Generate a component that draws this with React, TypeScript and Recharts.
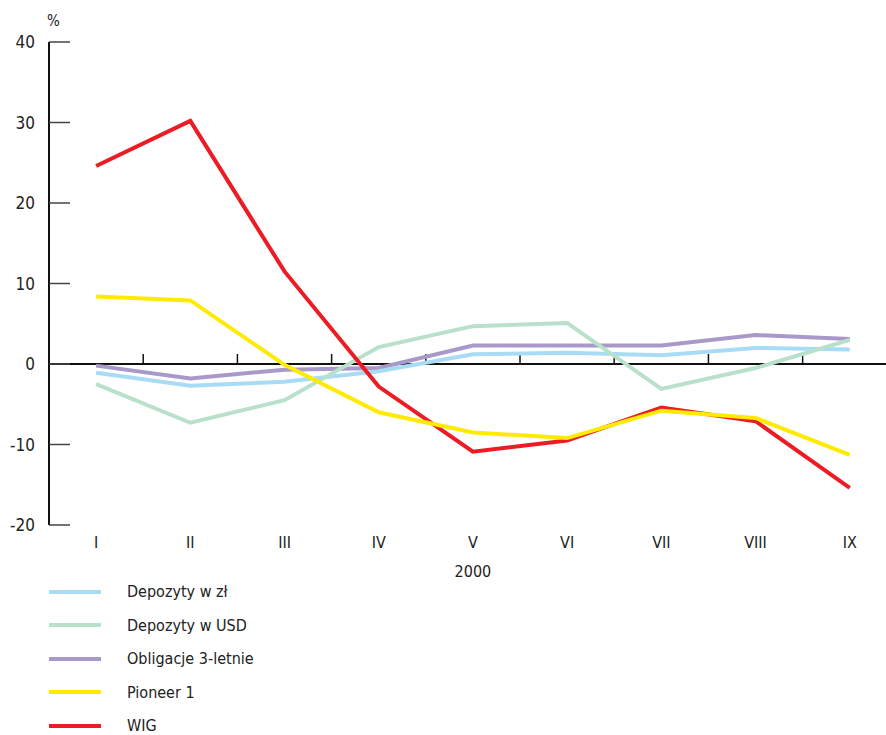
import { LineChart, Line, XAxis, YAxis, ReferenceLine, Legend } from "recharts"

// miesiące 2000
const months = ["I", "II", "III", "IV", "V", "VI", "VII", "VIII", "IX"]

const depozytyZl = [-1.1, -2.7, -2.2, -0.9, 1.2, 1.4, 1.1, 2.0, 1.8]
const depozytyUsd = [-2.5, -7.3, -4.5, 2.1, 4.7, 5.1, -3.1, -0.5, 3.0]
const obligacje = [-0.2, -1.8, -0.7, -0.5, 2.3, 2.3, 2.3, 3.6, 3.1]
const pioneer = [8.4, 7.9, -0.1, -6.0, -8.5, -9.2, -5.8, -6.7, -11.3]
const wig = [24.6, 30.2, 11.5, -2.8, -10.9, -9.5, -5.4, -7.1, -15.4]

const yTicks = [-20, -10, 0, 10, 20, 30, 40]

const FONT = "'Liberation Sans Narrow', 'DejaVu Sans Condensed', 'Open Sans', sans-serif"
const X_DOMAIN: [number, number] = [-0.5, 8.385]

// legend order
const series = [
  { key: "zl", name: "Depozyty w zł", color: "#a8dcf4", values: depozytyZl },
  { key: "usd", name: "Depozyty w USD", color: "#b8e0ca", values: depozytyUsd },
  { key: "obl", name: "Obligacje 3-letnie", color: "#a999cb", values: obligacje },
  { key: "pioneer", name: "Pioneer 1", color: "#ffeb00", values: pioneer },
  { key: "wig", name: "WIG", color: "#ec1c24", values: wig },
]

// draw order (yellow on top)
const drawOrder = ["obl", "zl", "usd", "wig", "pioneer"]

const data = months.map((m, i) => {
  const row: Record<string, number | string> = { idx: i, month: m }
  series.forEach((s) => {
    row[s.key] = s.values[i]
  })
  return row
})

// small ticks on the zero line, between months
const midTicks = months.slice(1).map((_, i) => i + 0.5)

const renderLegend = () => (
  <div style={{ fontFamily: FONT, fontSize: 16, color: "#222" }}>
    {series.map((s) => (
      <div key={s.key} style={{ display: "flex", alignItems: "center", height: 33.5 }}>
        <span style={{ display: "inline-block", width: 52, height: 4, background: s.color, marginLeft: 49 }} />
        <span style={{ marginLeft: 26 }}>{s.name}</span>
      </div>
    ))}
  </div>
)

export default function App() {
  return (
    <div style={{ position: "absolute", left: 0, top: 0 }}>
      <LineChart width={886} height={735} data={data} margin={{ top: 42, right: 0, left: 0, bottom: 180 }}>
        <XAxis
          type="number"
          dataKey="idx"
          domain={X_DOMAIN}
          allowDataOverflow
          ticks={months.map((_, i) => i)}
          interval={0}
          tickFormatter={(v) => months[v]}
          axisLine={false}
          tickLine={false}
          tickSize={0}
          tickMargin={12}
          height={30}
          tick={{ fill: "#222", fontSize: 16, fontFamily: FONT }}
          label={{
            content: ({ viewBox }: any) => {
              const x = viewBox.x + ((4 - X_DOMAIN[0]) / (X_DOMAIN[1] - X_DOMAIN[0])) * viewBox.width
              return (
                <text x={x} y={577} textAnchor="middle" fill="#222" fontSize={16} fontFamily={FONT}>
                  2000
                </text>
              )
            },
          }}
        />
        <YAxis
          domain={[-20, 40]}
          ticks={yTicks}
          interval={0}
          width={49}
          axisLine={{ stroke: "#111", strokeWidth: 2 }}
          tickLine={{ stroke: "#444", strokeWidth: 1.5 }}
          tickSize={-21}
          tickMargin={35}
          tick={{ fill: "#222", fontSize: 17, fontFamily: FONT }}
          label={{
            content: ({ viewBox }: any) => (
              <text x={viewBox.x + viewBox.width - 2} y={viewBox.y - 16} fill="#222" fontSize={15} fontFamily={FONT}>
                %
              </text>
            ),
          }}
        />
        <ReferenceLine y={0} stroke="#111" strokeWidth={2} />
        {midTicks.map((x) => (
          <ReferenceLine
            key={x}
            segment={[
              { x, y: 0 },
              { x, y: 1.25 },
            ]}
            stroke="#111"
            strokeWidth={1.5}
          />
        ))}
        {drawOrder.map((k) => {
          const s = series.find((d) => d.key === k)!
          return (
            <Line
              key={s.key}
              type="linear"
              dataKey={s.key}
              name={s.name}
              stroke={s.color}
              strokeWidth={4}
              dot={false}
              activeDot={false}
              isAnimationActive={false}
            />
          )
        })}
        <Legend
          layout="horizontal"
          verticalAlign="middle"
          align="center"
          content={renderLegend}
          wrapperStyle={{ top: 575, left: 0, width: 400 }}
        />
      </LineChart>
    </div>
  )
}
